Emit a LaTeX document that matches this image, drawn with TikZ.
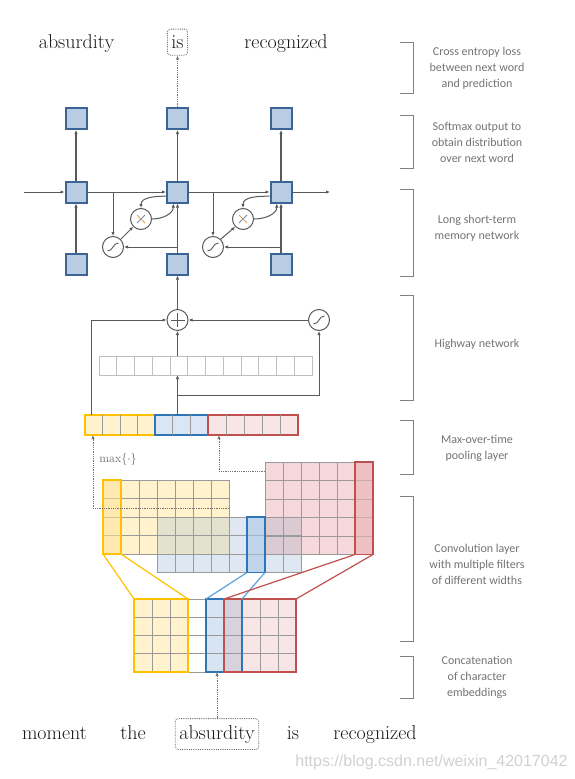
\documentclass[tikz,border=0pt]{standalone}
\usepackage{fontspec}
\usepackage{tikz}
\usetikzlibrary{calc}
\usetikzlibrary{positioning}
\usetikzlibrary {arrows.meta}

\newfontfamily\labelfont{Carlito}
\newfontfamily\markfont{Liberation Sans}

\definecolor{lstmfill}{HTML}{B8CCE4}
\definecolor{lstmdraw}{HTML}{3B6396}
\definecolor{linegray}{HTML}{595959}
\definecolor{labelgray}{HTML}{737373}
\definecolor{cellgray}{HTML}{9A9A9A}
\definecolor{yelbord}{HTML}{FFC000}
\definecolor{yelfill}{HTML}{FFF2CC}
\definecolor{yelhl}{HTML}{FFE39A}
\definecolor{bluebord}{HTML}{2E75B6}
\definecolor{bluelink}{HTML}{5BA3DC}
\definecolor{bluefill}{HTML}{DFE7F2}
\definecolor{bluehl}{HTML}{A9C9E8}
\definecolor{poolblue}{HTML}{DAE6F3}
\definecolor{redbord}{HTML}{C0504D}
\definecolor{redfill}{HTML}{F4D8DA}
\definecolor{redhl}{HTML}{E9B3B5}
\definecolor{ybmix}{HTML}{E3E2CF}
\definecolor{rbmix}{HTML}{DCCAD3}
\definecolor{embblue}{HTML}{D7E5F3}
\definecolor{embmix}{HTML}{D6D3DF}
\definecolor{embred}{HTML}{F8E6E6}
\definecolor{mulblue}{HTML}{6F8FB8}
\definecolor{mulorange}{HTML}{E0A060}

\begin{document}
\begin{tikzpicture}[
    x=10pt, y=-10pt,
    >={Latex[length=4pt, width=3.4pt]},
    word/.style={font=\fontsize{20}{24}\selectfont, text=black!90, inner xsep=4pt, inner ysep=6.5pt},
    wordbox/.style={draw=black!60, densely dotted, line width=0.8pt, rounded corners=3pt},
    cellnode/.style={rectangle, draw=lstmdraw, fill=lstmfill, line width=2pt, minimum size=21pt, inner sep=0pt},
    opnode/.style={circle, draw=linegray, fill=white, line width=1pt, minimum size=21pt, inner sep=0pt},
    sigmnode/.style={opnode, path picture={
        \draw[line width=0.9pt, linegray] ([shift={(-5.5pt,-4pt)}]path picture bounding box.center)
            .. controls +(6pt,0pt) and +(-6pt,0pt) .. ([shift={(5.5pt,4pt)}]path picture bounding box.center);
    }},
    plusnode/.style={opnode, path picture={
        \draw[line width=0.8pt, linegray] ([xshift=-7pt]path picture bounding box.center) -- ([xshift=7pt]path picture bounding box.center);
        \draw[line width=0.8pt, linegray] ([yshift=-7pt]path picture bounding box.center) -- ([yshift=7pt]path picture bounding box.center);
    }},
    mulnode/.style={opnode, path picture={
        \draw[line width=0.8pt, mulblue] ([shift={(-4pt,-4pt)}]path picture bounding box.center) -- ([shift={(4pt,4pt)}]path picture bounding box.center);
        \draw[line width=0.8pt, mulorange] ([shift={(-4pt,4pt)}]path picture bounding box.center) -- ([shift={(4pt,-4pt)}]path picture bounding box.center);
    }},
    conn/.style={draw=linegray, line width=1pt, ->},
    thickconn/.style={conn, line width=1.5pt},
    dotconn/.style={draw=black!55, densely dotted, line width=0.8pt, ->},
    cellline/.style={draw=cellgray, line width=0.7pt},
    hwyline/.style={draw=black!25, line width=0.7pt},
    hlcol/.style={rectangle, inner sep=0pt, outer sep=0pt, minimum width=18pt, line width=1.8pt, fill opacity=0.6},
    embbox/.style={rectangle, inner sep=0pt, outer sep=0pt, minimum height=73pt, line width=1.8pt},
    poolbox/.style={rectangle, inner sep=0pt, outer sep=0pt, minimum height=20pt, line width=1.8pt},
    bracket/.style={draw=black!50, line width=0.8pt},
    brklabel/.style={font={\labelfont\fontsize{12}{16}\selectfont}, text=labelgray, align=center}
]
    \useasboundingbox (0, 0) rectangle (57.5, 77.9);

    % Output words
    \node at (7.65, 4.85) [word, anchor=base](top_absurd){absurdity};
    \node at (17.75, 4.85) [word, wordbox, anchor=base](top_is){is};
    \node at (28.6, 4.85) [word, anchor=base](top_recog){recognized};

    % LSTM
    % - softmax, hidden and input cells
    \node at (7.6, 11.85) [cellnode](soft1){};
    \node at (17.75, 11.85) [cellnode](soft2){};
    \node at (28.1, 11.85) [cellnode](soft3){};
    \node at (7.6, 19.2) [cellnode](lstm1){};
    \node at (17.75, 19.2) [cellnode](lstm2){};
    \node at (28.1, 19.2) [cellnode](lstm3){};
    \node at (7.6, 26.4) [cellnode](inp1){};
    \node at (17.75, 26.4) [cellnode](inp2){};
    \node at (28.1, 26.4) [cellnode](inp3){};
    % - gates
    \node at (11.3, 24.7) [sigmnode](sig1){};
    \node at (14.1, 21.9) [mulnode](mul1){};
    \node at (21.3, 24.7) [sigmnode](sig2){};
    \node at (24.3, 21.9) [mulnode](mul2){};
    % -- the recurrent line
    \coordinate (hin) at (2.4, 19.2);
    \coordinate (hout) at (33.0, 19.2);
    \draw [conn] (hin) -- (lstm1.west);
    \draw [conn] (lstm1.east) -- (lstm2.west);
    \draw [conn] (lstm2.east) -- (lstm3.west);
    \draw [conn] (lstm3.east) -- (hout);
    % -- inputs and outputs
    \draw [thickconn] (inp1.north) -- (lstm1.south);
    \draw [thickconn] (inp2.north) -- (lstm2.south);
    \draw [thickconn] (inp3.north) -- (lstm3.south);
    \draw [thickconn] (lstm1.north) -- (soft1.south);
    \draw [thickconn] (lstm2.north) -- (soft2.south);
    \draw [thickconn] (lstm3.north) -- (soft3.south);
    \draw [dotconn] (soft2.north) -- (soft2.north |- top_is.south);
    % -- memory loops
    \draw [conn] (lstm1.east -| sig1) -- (sig1.north);
    \draw [conn] (inp2.north |- sig1) -- (sig1.east);
    \draw [conn] (sig1.45) -- (mul1.225);
    \draw [conn] (mul1.east) to[out=0, in=-90] (lstm2.-110);
    \draw [conn] (lstm2.200) to[out=180, in=90] (mul1.north);
    \draw [conn] (lstm2.east -| sig2) -- (sig2.north);
    \draw [conn] (inp3.north |- sig2) -- (sig2.east);
    \draw [conn] (sig2.45) -- (mul2.225);
    \draw [conn] (mul2.east) to[out=0, in=-90] (lstm3.-110);
    \draw [conn] (lstm3.200) to[out=180, in=90] (mul2.north);

    % Highway network
    \node at (17.75, 32.0) [plusnode](plus){};
    \node at (31.9, 32.0) [sigmnode](hsig){};
    \node at (20.55, 36.55) [draw=black!25, line width=0.9pt, minimum width=213pt, minimum height=19pt, inner sep=0pt, outer sep=0pt](hwy){};
    \foreach \i in {1,...,11}
        \draw [hwyline] ([xshift=\i*17.75pt]hwy.north west) -- ([xshift=\i*17.75pt]hwy.south west);

    % Max-over-time pooling
    \node at (12.0, 42.5) [poolbox, draw=yelbord, fill=yelfill, minimum width=70pt](pool_y){};
    \node at (18.15, 42.5) [poolbox, draw=bluebord, fill=poolblue, minimum width=53pt](pool_b){};
    \node at (25.3, 42.5) [poolbox, draw=redbord, fill=embred, minimum width=90pt](pool_r){};
    \foreach \i in {1,2,3}
        \draw [cellline] ([xshift=\i*17.5pt]pool_y.north west) -- ([xshift=\i*17.5pt]pool_y.south west);
    \foreach \i in {1,2}
        \draw [cellline] ([xshift=\i*17.67pt]pool_b.north west) -- ([xshift=\i*17.67pt]pool_b.south west);
    \foreach \i in {1,...,4}
        \draw [cellline] ([xshift=\i*18pt]pool_r.north west) -- ([xshift=\i*18pt]pool_r.south west);
    % -- highway connections
    \coordinate (split) at (17.75, 39.5);
    \draw [conn] ([xshift=6pt]pool_y.north west) |- (plus.west);
    \draw [conn] (plus |- pool_b.north) -- (plus |- hwy.south);
    \draw [conn] (split) -| (hsig.south);
    \draw [conn] (plus |- hwy.north) -- (plus.south);
    \draw [conn] (hsig.west) -- (plus.east);
    \draw [conn] (plus.north) -- (inp2.south);

    % Convolution feature maps
    \fill [bluefill] (15.7, 51.7) rectangle (30.1, 57.25);
    \fill [yelfill] (10.3, 48.0) rectangle (22.9, 55.4);
    \fill [redfill] (26.5, 46.2) rectangle (37.3, 55.45);
    \fill [ybmix] (15.7, 51.7) rectangle (22.9, 55.4);
    \fill [rbmix] (26.5, 51.7) rectangle (30.1, 55.4);
    \foreach \i in {0,...,6} \foreach \j in {0,...,3}
        \draw [cellline] (10.3+1.8*\i, 48.0+1.85*\j) rectangle ++(1.8, 1.85);
    \foreach \i in {0,...,7} \foreach \j in {0,...,2}
        \draw [cellline] (15.7+1.8*\i, 51.7+1.85*\j) rectangle ++(1.8, 1.85);
    \foreach \i in {0,...,5} \foreach \j in {0,...,4}
        \draw [cellline] (26.5+1.8*\i, 46.2+1.85*\j) rectangle ++(1.8, 1.85);
    % - the pooled columns
    \node at (11.2, 51.7) [hlcol, draw=yelbord, fill=yelhl, minimum height=74pt](fy_hl){};
    \node at (25.6, 54.475) [hlcol, draw=bluebord, fill=bluehl, minimum height=55.5pt](fb_hl){};
    \node at (36.4, 50.825) [hlcol, draw=redbord, fill=redhl, minimum height=92.5pt](fr_hl){};
    % -- max over time
    \coordinate (ymax) at (22.9, 50.8);
    \coordinate (rmax) at (26.5, 47.1);
    \draw [dotconn] (ymax) -| ([xshift=8pt]pool_y.south west);
    \draw [dotconn] (rmax) -| ([xshift=11pt]pool_r.south west);
    \node at (11.8, 45.9) [font=\fontsize{12}{14}\selectfont, text=black!60](maxlbl){$\max\{\cdot\}$};

    % Character embeddings
    \fill [yelfill] (13.4, 59.9) rectangle (18.8, 67.2);
    \fill [embblue] (20.6, 59.9) rectangle (22.4, 67.2);
    \fill [embmix] (22.4, 59.9) rectangle (24.2, 67.2);
    \fill [embred] (24.2, 59.9) rectangle (29.6, 67.2);
    \foreach \i in {0,...,8} \foreach \j in {0,...,3}
        \draw [cellline] (13.4+1.8*\i, 59.9+1.825*\j) rectangle ++(1.8, 1.825);
    \node at (16.1, 63.55) [embbox, draw=yelbord, minimum width=54pt](emb_y){};
    \node at (22.4, 63.55) [embbox, draw=bluebord, minimum width=36pt](emb_b){};
    \node at (26.0, 63.55) [embbox, draw=redbord, minimum width=72pt](emb_r){};
    % -- filters
    \draw [yelbord, line width=1.2pt] (fy_hl.south west) -- (emb_y.north west);
    \draw [yelbord, line width=1.2pt] (fy_hl.south east) -- (emb_y.north east);
    \draw [bluelink, line width=1.2pt] (fb_hl.south west) -- (emb_b.north west);
    \draw [bluelink, line width=1.2pt] (fb_hl.south east) -- (emb_b.north east);
    \draw [redbord, line width=1.2pt] (fr_hl.south west) -- (emb_r.north west);
    \draw [redbord, line width=1.2pt] (fr_hl.south east) -- (emb_r.north east);

    % Input sentence
    \node at (5.45, 73.9) [word, anchor=base](w_moment){moment};
    \node at (13.3, 73.9) [word, anchor=base](w_the){the};
    \node at (21.7, 73.9) [word, wordbox, anchor=base](w_absurd){absurdity};
    \node at (29.3, 73.9) [word, anchor=base](w_is){is};
    \node at (37.5, 73.9) [word, anchor=base](w_recog){recognized};
    \draw [dotconn] (w_absurd.north) -- (w_absurd.north |- emb_b.south);

    % Layer brackets
    \draw [bracket] (40.0, 4.2) -- (41.3, 4.2) -- (41.3, 9.3) -- (40.0, 9.3);
    \draw [bracket] (40.0, 11.5) -- (41.3, 11.5) -- (41.3, 16.8) -- (40.0, 16.8);
    \draw [bracket] (40.0, 18.9) -- (41.3, 18.9) -- (41.3, 27.6) -- (40.0, 27.6);
    \draw [bracket] (40.0, 29.5) -- (41.3, 29.5) -- (41.3, 40.0) -- (40.0, 40.0);
    \draw [bracket] (40.0, 42.0) -- (41.3, 42.0) -- (41.3, 47.4) -- (40.0, 47.4);
    \draw [bracket] (40.0, 49.6) -- (41.3, 49.6) -- (41.3, 64.1) -- (40.0, 64.1);
    \draw [bracket] (40.0, 65.6) -- (41.3, 65.6) -- (41.3, 69.8) -- (40.0, 69.8);
    \node at (47.7, 6.8) [brklabel](lbl_loss){Cross entropy loss\\between next word\\and prediction};
    \node at (47.7, 14.2) [brklabel](lbl_soft){Softmax output to\\obtain distribution\\over next word};
    \node at (47.7, 22.85) [brklabel](lbl_lstm){Long short-term\\memory network};
    \node at (47.7, 34.4) [brklabel](lbl_hwy){Highway network};
    \node at (47.7, 44.8) [brklabel](lbl_pool){Max-over-time\\pooling layer};
    \node at (47.7, 56.4) [brklabel](lbl_conv){Convolution layer\\with multiple filters\\of different widths};
    \node at (47.7, 67.7) [brklabel](lbl_emb){Concatenation\\of character\\embeddings};

    % watermark
    \node at (43.15, 76.2) [font={\markfont\fontsize{16}{18}\selectfont}, text=black!18](wmark){https://blog.csdn.net/weixin\_42017042};
\end{tikzpicture}
\end{document}
